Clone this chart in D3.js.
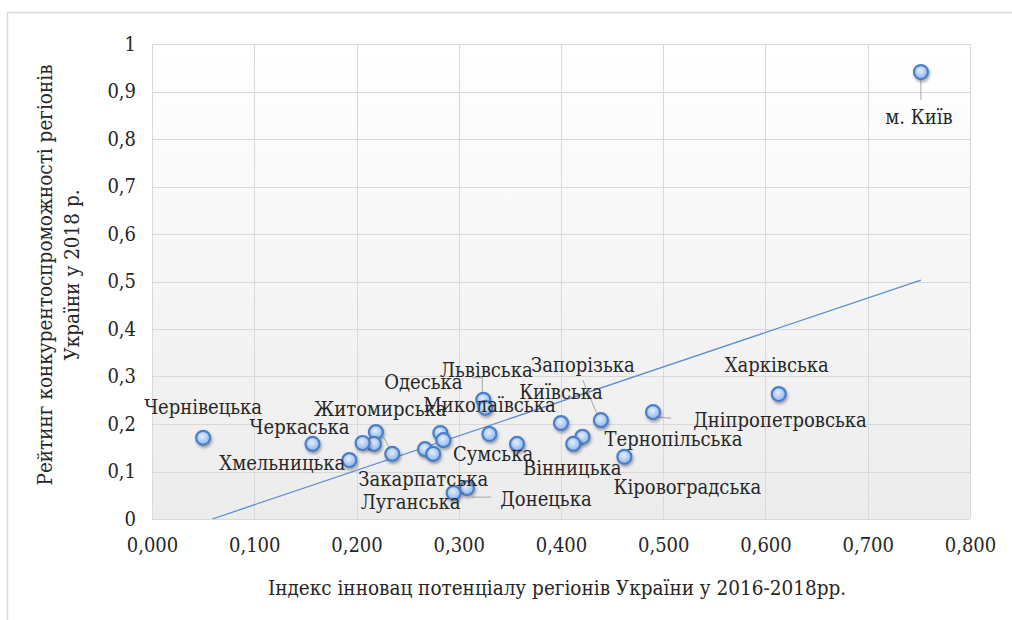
<!DOCTYPE html>
<html><head><meta charset="utf-8">
<script src="https://cdn.jsdelivr.net/npm/d3@7"></script>
<style>
html,body{margin:0;padding:0;background:#fff;}
svg{display:block;}
text{font-family:"DejaVu Serif Condensed","DejaVu Serif",serif;fill:#262626;}
</style></head>
<body>
<svg id="chart" width="1012" height="620"></svg>
<script>
// ---- data ----
const regions = ["м. Київ","Харківська","Дніпропетровська","Кіровоградська","Запорізька","Тернопільська","Вінницька","Київська","Сумська","Миколаївська","Львівська","Одеська","Полтавська","Рівненська","Волинська","Закарпатська","Донецька","Луганська","Житомирська","Івано-Франківська","Херсонська","Чернігівська","Хмельницька","Черкаська","Чернівецька"];
const innovationIndex = [0.752,0.613,0.490,0.462,0.439,0.421,0.412,0.400,0.357,0.330,0.324,0.326,0.282,0.285,0.267,0.275,0.308,0.295,0.235,0.219,0.217,0.206,0.193,0.157,0.050];
const competitiveness = [0.941,0.263,0.225,0.131,0.208,0.173,0.158,0.202,0.158,0.179,0.251,0.234,0.181,0.166,0.147,0.137,0.065,0.055,0.137,0.183,0.158,0.160,0.124,0.158,0.171];
const showLabel = [1,1,1,1,1,1,1,1,1,1,1,1,0,0,0,1,1,1,1,0,0,0,1,1,1];
const xTicks = [0,0.1,0.2,0.3,0.4,0.5,0.6,0.7,0.8];
const yTicks = [0,0.1,0.2,0.3,0.4,0.5,0.6,0.7,0.8,0.9,1];
const xTitle = "Індекс інновац потенціалу регіонів України у 2016-2018рр.";
const yTitleLines = ["Рейтинг конкурентоспроможності регіонів","України у 2018 р."];

// ---- layout (label offsets in px, relative to the point) ----
const labelOffsets = {
 "м. Київ":[-2,45],"Харківська":[-2,-29],"Дніпропетровська":[127,8],"Кіровоградська":[63,30],
 "Запорізька":[-18,-55],"Тернопільська":[91,2],"Вінницька":[-1,24],"Київська":[0,-31],
 "Сумська":[-24,10],"Миколаївська":[0,-29],"Львівська":[3,-30],"Одеська":[-62,-26],
 "Закарпатська":[-10,25],"Донецька":[79,11],"Луганська":[-43,9],"Житомирська":[-12,-45],
 "Хмельницька":[-67,3],"Черкаська":[-13,-17],"Чернівецька":[0,-31]
};
const leaders = {
 "м. Київ":[[0,8],[0,28]],
 "Дніпропетровська":[[4,5],[18,6]],
 "Запорізька":[[-18,-40],[-3,-4]],
 "Львівська":[[-11,-22],[-1,-22],[-1,-7]],
 "Донецька":[[5,9],[24,9]],
 "Житомирська":[[-9,-17],[0,-1]]
};
const FONT = 20;

const svg = d3.select("#chart");
const m = {left:152, right:970, top:44, bottom:519};
const x = d3.scaleLinear().domain([0,0.8]).range([m.left,m.right]);
const y = d3.scaleLinear().domain([0,1]).range([m.bottom,m.top]);

const defs = svg.append("defs");
const bg = defs.append("linearGradient").attr("id","bg").attr("x1",0).attr("y1",0).attr("x2",0).attr("y2",1);
bg.append("stop").attr("offset","0%").attr("stop-color","#ffffff");
bg.append("stop").attr("offset","100%").attr("stop-color","#ececec");
const mk = defs.append("radialGradient").attr("id","mk").attr("cx","45%").attr("cy","40%").attr("r","60%");
mk.append("stop").attr("offset","0%").attr("stop-color","#e3eeff");
mk.append("stop").attr("offset","100%").attr("stop-color","#8db3ef");
const sh = defs.append("filter").attr("id","sh").attr("x","-50%").attr("y","-50%").attr("width","200%").attr("height","200%");
sh.append("feDropShadow").attr("dx",1).attr("dy",2).attr("stdDeviation",1.6).attr("flood-color","#000").attr("flood-opacity",0.35);
const clip = defs.append("clipPath").attr("id","clip");
clip.append("rect").attr("x",m.left).attr("y",m.top).attr("width",m.right-m.left).attr("height",m.bottom-m.top);

// outer border
svg.append("rect").attr("x",7.5).attr("y",12.5).attr("width",1010).attr("height",620)
  .attr("fill","none").attr("stroke","#d9d9d9").attr("stroke-width",1.5);

// plot background
svg.append("rect").attr("x",m.left).attr("y",m.top).attr("width",m.right-m.left).attr("height",m.bottom-m.top)
  .attr("fill","url(#bg)");

// grid
const grid = svg.append("g").attr("stroke","#d9d9d9").attr("stroke-width",1);
grid.selectAll(".vx").data(xTicks).join("line")
  .attr("x1",d=>Math.round(x(d))+0.5).attr("x2",d=>Math.round(x(d))+0.5).attr("y1",m.top).attr("y2",m.bottom);
grid.selectAll(".hy").data(yTicks).join("line")
  .attr("y1",d=>Math.round(y(d))+0.5).attr("y2",d=>Math.round(y(d))+0.5).attr("x1",m.left).attr("x2",m.right);

// axes (tick labels only)
const fmtX = d=>d3.format(".3f")(d).replace(".",",");
const fmtY = d=>(d===0||d===1)?String(d):d3.format(".1f")(d).replace(".",",");
const xAxis = svg.append("g").attr("transform",`translate(0,${m.bottom})`)
  .call(d3.axisBottom(x).tickValues(xTicks).tickFormat(fmtX).tickSize(0).tickPadding(19));
const yAxis = svg.append("g").attr("transform",`translate(${m.left},0)`)
  .call(d3.axisLeft(y).tickValues(yTicks).tickFormat(fmtY).tickSize(0).tickPadding(16));
[xAxis,yAxis].forEach(a=>{a.select(".domain").remove();
  a.attr("font-family",null);
  a.selectAll("text").attr("font-size",FONT).attr("fill","#333");});

// trendline (least squares)
const n = innovationIndex.length;
const mx = d3.mean(innovationIndex), my = d3.mean(competitiveness);
let sxy=0,sxx=0;
for(let i=0;i<n;i++){sxy+=(innovationIndex[i]-mx)*(competitiveness[i]-my);sxx+=(innovationIndex[i]-mx)**2;}
const b = sxy/sxx, a = my-b*mx;
const x0 = Math.max(d3.min(innovationIndex), -a/b), x1 = d3.max(innovationIndex);
svg.append("line").attr("clip-path","url(#clip)")
  .attr("x1",x(x0)).attr("y1",y(a+b*x0)).attr("x2",x(x1)).attr("y2",y(a+b*x1))
  .attr("stroke","#5b8fd0").attr("stroke-width",1.3);

const pts = regions.map((r,i)=>({name:r,x:innovationIndex[i],y:competitiveness[i],show:showLabel[i]}));

// leader lines
const lg = svg.append("g").attr("stroke","#a6a6a6").attr("stroke-width",1).attr("fill","none");
pts.forEach(p=>{
  const L = leaders[p.name]; if(!L||!p.show) return;
  const px=x(p.x), py=y(p.y);
  lg.append("polyline").attr("points",L.map(o=>[px+o[0],py+o[1]].join(",")).join(" "));
});

// points
svg.append("g").selectAll("circle").data(pts).join("circle")
  .attr("cx",d=>x(d.x)).attr("cy",d=>y(d.y)).attr("r",7)
  .attr("fill","url(#mk)").attr("stroke","#4a7fc6").attr("stroke-width",2.2).attr("filter","url(#sh)");

// labels
svg.append("g").selectAll("text").data(pts.filter(p=>p.show)).join("text")
  .attr("x",d=>x(d.x)+labelOffsets[d.name][0]).attr("y",d=>y(d.y)+labelOffsets[d.name][1])
  .attr("text-anchor","middle").attr("dominant-baseline","central")
  .attr("font-size",FONT).attr("fill","#262626").text(d=>d.name);

// axis titles
svg.append("text").attr("x",(m.left+m.right)/2-4).attr("y",588).attr("text-anchor","middle")
  .attr("dominant-baseline","central").attr("font-size",FONT+0.5).attr("fill","#333").text(xTitle);
const yt = svg.append("text").attr("transform","translate(58,275) rotate(-90)").attr("text-anchor","middle")
  .attr("font-size",FONT+0.5).attr("fill","#333");
yTitleLines.forEach((t,i)=>yt.append("tspan").attr("x",0).attr("y",(i-0.5)*27).attr("dominant-baseline","central").text(t));
</script>
</body></html>
